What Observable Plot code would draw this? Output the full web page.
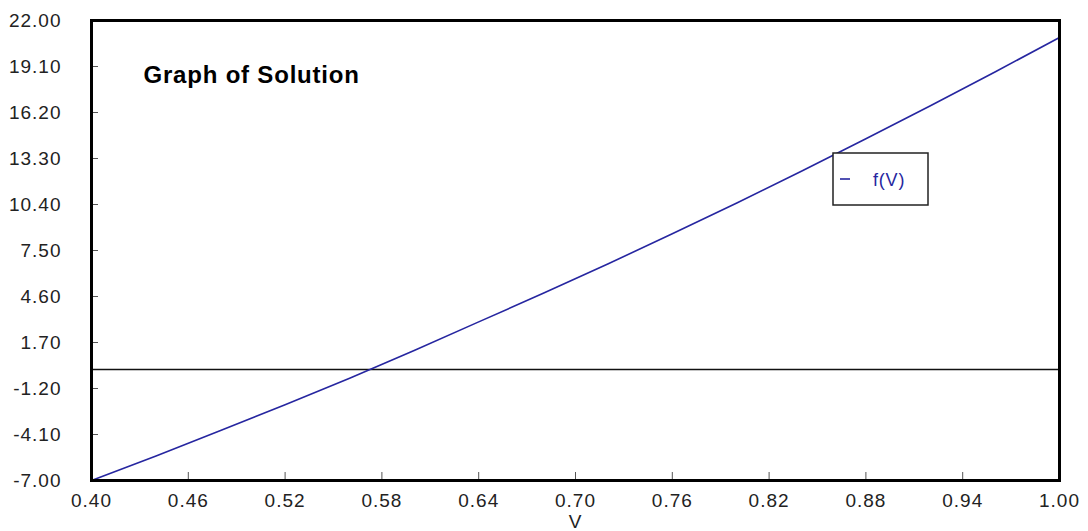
<!DOCTYPE html>
<html>
<head>
<meta charset="utf-8">
<script src="https://cdn.jsdelivr.net/npm/d3@7"></script>
<script src="https://cdn.jsdelivr.net/npm/@observablehq/plot@0.6"></script>
<style>
  html, body { margin: 0; padding: 0; background: #fff; overflow: hidden; }
  #chart { width: 1088px; height: 531px; }
</style>
</head>
<body>
<div id="chart"></div>
<script>
const title = "Graph of Solution";
const seriesName = "f(V)";
const xLabel = "V";
const V  = [0.40, 0.44, 0.48, 0.52, 0.56, 0.60, 0.64, 0.68, 0.72, 0.76, 0.80, 0.84, 0.88, 0.92, 0.96, 1.00];
const fV = [-7.00, -5.45, -3.85, -2.22, -0.55, 1.20, 3.00, 4.80, 6.65, 8.55, 10.50, 12.50, 14.55, 16.62, 18.75, 20.93];
const xTicks = [0.40, 0.46, 0.52, 0.58, 0.64, 0.70, 0.76, 0.82, 0.88, 0.94, 1.00];
const yTicks = [-7.00, -4.10, -1.20, 1.70, 4.60, 7.50, 10.40, 13.30, 16.20, 19.10, 22.00];

const data = V.map((v, i) => ({V: v, f: fV[i]}));
const lineColor = "#2626a0";
const W = 1088, H = 531;
const mL = 91, mR = 29, mT = 20, mB = 51;
const innerW = W - mL - mR, innerH = H - mT - mB;

const plot = Plot.plot({
  width: W,
  height: H,
  marginLeft: mL,
  marginRight: mR,
  marginTop: mT,
  marginBottom: mB,
  style: {fontFamily: "'Liberation Sans', Arial, sans-serif", fontSize: "19px", color: "#222", background: "#fff", overflow: "visible"},
  x: {domain: [0.4, 1.0]},
  y: {domain: [-7, 22]},
  marks: [
    Plot.ruleY([0], {stroke: "#111", strokeWidth: 1.5}),
    Plot.line(data, {x: "V", y: "f", stroke: lineColor, strokeWidth: 1.6}),
    Plot.tickX(xTicks, {x: d => d, insetTop: innerH - 8, stroke: "#555", strokeWidth: 1}),
    Plot.tickY(yTicks, {y: d => d, insetRight: innerW - 7, stroke: "#555", strokeWidth: 1}),
    Plot.axisX({ticks: xTicks, tickSize: 0, tickPadding: 13, tickFormat: d => d.toFixed(2), label: null, fontSize: 19}),
    Plot.axisY({ticks: yTicks, tickSize: 0, tickPadding: 30, tickFormat: d => d.toFixed(2), label: null, fontSize: 19}),
    Plot.text([xLabel], {frameAnchor: "bottom", dy: 34, lineAnchor: "top", fontSize: 19, fill: "#222", text: d => d}),
    Plot.text([title], {frameAnchor: "top-left", dx: 52, dy: 45, lineAnchor: "top", textAnchor: "start", fontSize: 24, fontWeight: "bold", fill: "#000", text: d => d}),
    Plot.frame({stroke: "#000", strokeWidth: 3})
  ]
});

d3.select(plot).selectAll("g[aria-label='x-axis tick label'] text, g[aria-label='y-axis tick label'] text").style("letter-spacing", "1px");
d3.select(plot).selectAll("g[aria-label='text'] text").style("letter-spacing", "0.8px");

// Legend box
const svg = d3.select(plot);
const lg = svg.append("g").attr("class", "legend").attr("text-anchor", "start");
lg.append("rect").attr("x", 833).attr("y", 153).attr("width", 95).attr("height", 52)
  .attr("fill", "#fff").attr("stroke", "#222").attr("stroke-width", 1.5);
lg.append("line").attr("x1", 840).attr("x2", 850).attr("y1", 179).attr("y2", 179)
  .attr("stroke", lineColor).attr("stroke-width", 1.6);
lg.append("text").attr("x", 873).attr("y", 186).attr("fill", lineColor).attr("text-anchor", "start")
  .attr("font-size", 18).style("letter-spacing", "0.8px").text(seriesName);

document.getElementById("chart").appendChild(plot);
</script>
</body>
</html>
